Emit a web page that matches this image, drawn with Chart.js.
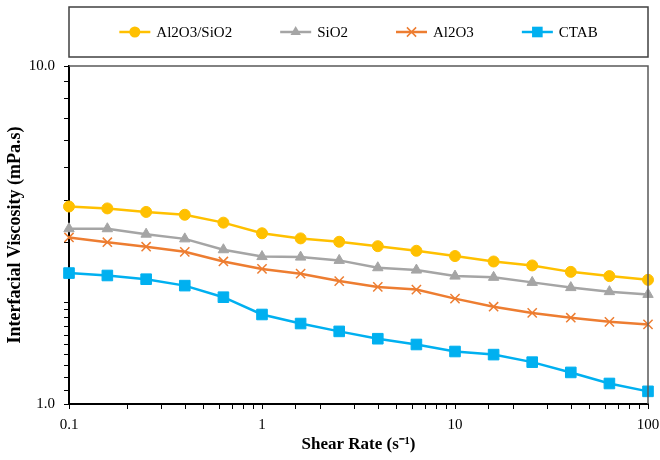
<!DOCTYPE html>
<html lang="en">
<head>
<meta charset="UTF-8">
<title>Interfacial Viscosity vs Shear Rate</title>
<script src="https://cdn.jsdelivr.net/npm/chart.js"></script>
<style>
    body { margin: 0; background: #fff; }
    #viscChart { display: block; }
</style>
</head>
<body>
<canvas id="viscChart" width="660" height="460"></canvas>
<script>
// shear rate (1/s), 5 points per decade
const shearRates = [0.1, 0.158, 0.251, 0.398, 0.631, 1, 1.585, 2.512, 3.981, 6.31, 10, 15.85, 25.12, 39.81, 63.1, 100];

// interfacial viscosity (mPa.s)
const al2o3Sio2 = [3.84, 3.79, 3.70, 3.63, 3.44, 3.20, 3.09, 3.02, 2.93, 2.84, 2.74, 2.64, 2.57, 2.46, 2.39, 2.33];
const sio2      = [3.30, 3.30, 3.18, 3.08, 2.86, 2.73, 2.72, 2.66, 2.53, 2.49, 2.39, 2.37, 2.29, 2.21, 2.15, 2.11];
const al2o3     = [3.11, 3.01, 2.92, 2.82, 2.64, 2.51, 2.43, 2.31, 2.22, 2.18, 2.05, 1.94, 1.86, 1.80, 1.75, 1.72];
const ctab      = [2.44, 2.40, 2.34, 2.24, 2.07, 1.84, 1.73, 1.64, 1.56, 1.50, 1.43, 1.40, 1.33, 1.24, 1.15, 1.09];

const seriesNames = ['Al2O3/SiO2', 'SiO2', 'Al2O3', 'CTAB'];
const xTickLabels = ['0.1', '1', '10', '100'];
const yTickLabels = ['1.0', '10.0'];

const serif = "'Liberation Serif', 'Times New Roman', serif";

function pts(values) {
    return shearRates.map((x, i) => ({ x: x, y: values[i] }));
}

function isDecade(v) {
    const l = Math.log10(v);
    return Math.abs(l - Math.round(l)) < 1e-6;
}

// small marker drawer for the legend
function drawMarker(ctx, style, r, x, y) {
    ctx.beginPath();
    if (style === 'circle') {
        ctx.arc(x, y, r, 0, Math.PI * 2);
        ctx.fill();
    } else if (style === 'triangle') {
        ctx.moveTo(x, y - r);
        ctx.lineTo(x + r * 0.866, y + r * 0.5);
        ctx.lineTo(x - r * 0.866, y + r * 0.5);
        ctx.closePath();
        ctx.fill();
    } else if (style === 'rect') {
        const s = r * Math.SQRT1_2;
        ctx.rect(x - s, y - s, 2 * s, 2 * s);
        ctx.fill();
    } else if (style === 'crossRot') {
        const d = r * Math.SQRT1_2;
        ctx.lineWidth = 1.5;
        ctx.moveTo(x - d, y - d); ctx.lineTo(x + d, y + d);
        ctx.moveTo(x - d, y + d); ctx.lineTo(x + d, y - d);
        ctx.stroke();
    }
}

// boxed legend above the plot + top/right frame of the plot area
const frameAndLegend = {
    id: 'frameAndLegend',
    afterDatasetsDraw(chart) {
        const ctx = chart.ctx;
        const a = chart.chartArea;
        ctx.save();
        ctx.strokeStyle = '#595959';
        ctx.lineWidth = 1.5;
        ctx.beginPath();
        ctx.moveTo(a.left, a.top);
        ctx.lineTo(a.right, a.top);
        ctx.lineTo(a.right, a.bottom);
        ctx.stroke();

        // legend box
        ctx.strokeStyle = '#404040';
        ctx.lineWidth = 1.5;
        ctx.strokeRect(a.left, 7, a.right - a.left, 50);

        ctx.font = '15px ' + serif;
        ctx.textBaseline = 'middle';
        const lineLen = 31, gapText = 6, gapItem = 48;
        const sets = chart.data.datasets;
        const widths = sets.map(d => lineLen + gapText + ctx.measureText(d.label).width);
        const total = widths.reduce((s, w) => s + w, 0) + gapItem * (sets.length - 1);
        let x = (a.left + a.right) / 2 - total / 2;
        const y = 32;
        sets.forEach((d, i) => {
            ctx.strokeStyle = d.borderColor;
            ctx.fillStyle = d.borderColor;
            ctx.lineWidth = 2.5;
            ctx.beginPath();
            ctx.moveTo(x, y);
            ctx.lineTo(x + lineLen, y);
            ctx.stroke();
            drawMarker(ctx, d.pointStyle, d.pointRadius, x + lineLen / 2, y);
            ctx.fillStyle = '#000';
            ctx.fillText(d.label, x + lineLen + gapText, y + 1);
            x += widths[i] + gapItem;
        });
        ctx.restore();
    }
};

function series(label, values, color, style, radius) {
    return {
        label: label,
        data: pts(values),
        borderColor: color,
        backgroundColor: color,
        pointBackgroundColor: color,
        pointBorderColor: color,
        borderWidth: 2.5,
        pointStyle: style,
        pointRadius: radius,
        pointHoverRadius: radius,
        pointBorderWidth: style === 'crossRot' ? 1.5 : 1,
        tension: 0,
        clip: false
    };
}

new Chart(document.getElementById('viscChart').getContext('2d'), {
    type: 'line',
    data: {
        datasets: [
            series(seriesNames[0], al2o3Sio2, '#FFC000', 'circle', 5.5),
            series(seriesNames[1], sio2, '#A5A5A5', 'triangle', 6),
            series(seriesNames[2], al2o3, '#ED7D31', 'crossRot', 6.5),
            series(seriesNames[3], ctab, '#00B0F0', 'rect', 7.5)
        ]
    },
    options: {
        responsive: false,
        animation: false,
        layout: { padding: { left: 0, right: 12, top: 66, bottom: 0 } },
        plugins: {
            legend: { display: false },
            tooltip: { enabled: false }
        },
        scales: {
            x: {
                type: 'logarithmic',
                min: 0.1,
                max: 100,
                afterFit(scale) {
                    scale.height = 56;
                    // keep the "100" label from pushing the plot edge in
                    scale.paddingLeft = 0;
                    scale.paddingRight = 0;
                },
                border: { display: true, color: '#000', width: 2 },
                grid: { drawOnChartArea: false, drawTicks: true, tickLength: 5, color: '#000', lineWidth: 1 },
                ticks: {
                    autoSkip: false,
                    maxRotation: 0,
                    padding: 7,
                    color: '#000',
                    font: { family: serif, size: 15 },
                    callback: v => isDecade(v) ? xTickLabels[Math.round(Math.log10(v)) + 1] : ''
                },
                title: {
                    display: true,
                    text: 'Shear Rate (s\u207B\u00B9)',
                    color: '#000',
                    font: { family: serif, size: 17, weight: 'bold' },
                    padding: { top: 0, bottom: 5 }
                }
            },
            y: {
                type: 'logarithmic',
                min: 1,
                max: 10,
                afterFit(scale) {
                    scale.width = 69;
                    scale.paddingTop = 0;
                    scale.paddingBottom = 0;
                },
                border: { display: true, color: '#000', width: 2 },
                grid: { drawOnChartArea: false, drawTicks: true, tickLength: 5, color: '#000', lineWidth: 1 },
                ticks: {
                    autoSkip: false,
                    padding: 9,
                    color: '#000',
                    font: { family: serif, size: 15 },
                    callback: v => isDecade(v) ? yTickLabels[Math.round(Math.log10(v))] : ''
                },
                title: {
                    display: true,
                    text: 'Interfacial Viscosity (mPa.s)',
                    color: '#000',
                    font: { family: serif, size: 18, weight: 'bold' },
                    padding: { top: 5, bottom: 0 }
                }
            }
        }
    },
    plugins: [frameAndLegend]
});
</script>
</body>
</html>
